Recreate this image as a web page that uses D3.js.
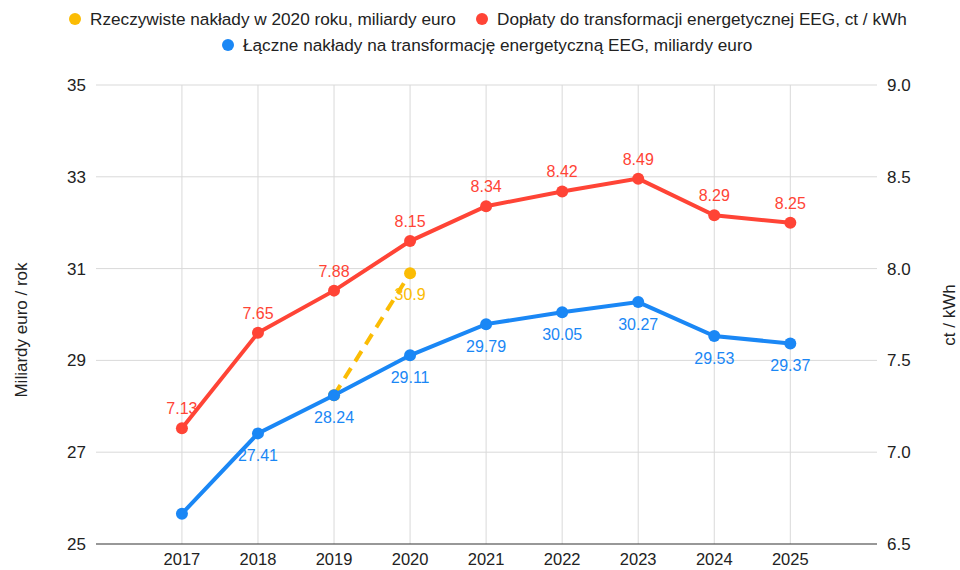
<!DOCTYPE html>
<html lang="pl">
<head>
<meta charset="UTF-8">
<title>EEG</title>
<script src="https://d3js.org/d3.v7.min.js"></script>
<style>
  body { margin: 0; background: #fff; }
  text { font-family: Arial, "Liberation Sans", sans-serif; }
</style>
</head>
<body>
<svg id="chart" width="960" height="570"></svg>
<script>
const years = [2017, 2018, 2019, 2020, 2021, 2022, 2023, 2024, 2025];
const totalCost = [25.66, 27.41, 28.24, 29.11, 29.79, 30.05, 30.27, 29.53, 29.37];
const surcharge = [7.13, 7.65, 7.88, 8.15, 8.34, 8.42, 8.49, 8.29, 8.25];
const actual2020 = [null, null, 28.24, 30.9, null, null, null, null, null];
const leftTicks = [25, 27, 29, 31, 33, 35];
const rightTicks = [6.5, 7.0, 7.5, 8.0, 8.5, 9.0];

const colors = { yellow: "#fbbc04", red: "#ff4436", blue: "#1a87f5" };

const svg = d3.select("#chart");
const plotLeft = 96, plotRight = 877, plotTop = 85, plotBottom = 544;
const fs = 17;

const x = d3.scaleLinear().domain([2015.87, 2026.14]).range([plotLeft, plotRight]);
const yL = d3.scaleLinear().domain([25, 35]).range([plotBottom, plotTop]);
const yR = d3.scaleLinear().domain([6.5, 9.0]).range([plotBottom, plotTop]);

// siatka pozioma
svg.append("g")
  .selectAll("line").data(leftTicks.slice(1)).join("line")
  .attr("x1", plotLeft).attr("x2", plotRight)
  .attr("y1", d => yL(d)).attr("y2", d => yL(d))
  .attr("stroke", "#d9d9d9").attr("stroke-width", 1);

// siatka pionowa
svg.append("g")
  .selectAll("line").data(years).join("line")
  .attr("x1", d => x(d)).attr("x2", d => x(d))
  .attr("y1", plotTop).attr("y2", plotBottom)
  .attr("stroke", "#d9d9d9").attr("stroke-width", 1);

// os dolna
svg.append("line")
  .attr("x1", plotLeft).attr("x2", plotRight)
  .attr("y1", plotBottom).attr("y2", plotBottom)
  .attr("stroke", "#333").attr("stroke-width", 1.2);

// etykiety osi
svg.append("g").selectAll("text").data(leftTicks).join("text")
  .attr("x", 86).attr("y", d => yL(d) + 6)
  .attr("text-anchor", "end").attr("font-size", fs).attr("fill", "#222")
  .text(d => d);

svg.append("g").selectAll("text").data(rightTicks).join("text")
  .attr("x", 887).attr("y", d => yR(d) + 6)
  .attr("text-anchor", "start").attr("font-size", fs).attr("fill", "#222")
  .text(d => d3.format(".1f")(d));

svg.append("g").selectAll("text").data(years).join("text")
  .attr("x", d => x(d)).attr("y", 565)
  .attr("text-anchor", "middle").attr("font-size", 16.5).attr("fill", "#222")
  .text(d => d);

svg.append("text")
  .attr("transform", "translate(27,330) rotate(-90)")
  .attr("text-anchor", "middle").attr("font-size", fs).attr("fill", "#222")
  .text("Miliardy euro / rok");

svg.append("text")
  .attr("transform", "translate(955,315) rotate(-90)")
  .attr("text-anchor", "middle").attr("font-size", fs).attr("fill", "#222")
  .text("ct / kWh");

// serie
function drawSeries(values, yScale, color, dash, labelDy, labelFilter) {
  const pts = years.map((yr, i) => ({ yr, v: values[i] })).filter(d => d.v != null);
  const line = d3.line().x(d => x(d.yr)).y(d => yScale(d.v));
  svg.append("path").datum(pts)
    .attr("d", line).attr("fill", "none")
    .attr("stroke", color).attr("stroke-width", 4)
    .attr("stroke-dasharray", dash);
  svg.append("g").selectAll("circle").data(pts).join("circle")
    .attr("cx", d => x(d.yr)).attr("cy", d => yScale(d.v))
    .attr("r", 6).attr("fill", color);
  svg.append("g").selectAll("text").data(pts.filter(labelFilter)).join("text")
    .attr("x", d => x(d.yr)).attr("y", d => yScale(d.v) + labelDy)
    .attr("text-anchor", "middle")
    .attr("font-family", "Roboto, Arial, sans-serif")
    .attr("font-size", 16).attr("fill", color)
    .text(d => d.v);
}

drawSeries(actual2020, yL, colors.yellow, "12,8", 27, d => d.yr === 2020);
drawSeries(surcharge, yR, colors.red, null, -14, () => true);
drawSeries(totalCost, yL, colors.blue, null, 28, d => d.yr !== 2017);

// legenda
const legend = [
  { label: "Rzeczywiste nakłady w 2020 roku, miliardy euro", color: colors.yellow, x: 75, y: 19 },
  { label: "Dopłaty do transformacji energetycznej EEG, ct / kWh", color: colors.red, x: 482, y: 19 },
  { label: "Łączne nakłady na transformację energetyczną EEG, miliardy euro", color: colors.blue, x: 228, y: 45 }
];
const lg = svg.append("g").selectAll("g").data(legend).join("g")
  .attr("transform", d => `translate(${d.x},${d.y})`);
lg.append("circle").attr("r", 6).attr("fill", d => d.color);
lg.append("text").attr("x", 15).attr("y", 6)
  .attr("font-size", 17.2).attr("fill", "#222")
  .text(d => d.label);
</script>
</body>
</html>
